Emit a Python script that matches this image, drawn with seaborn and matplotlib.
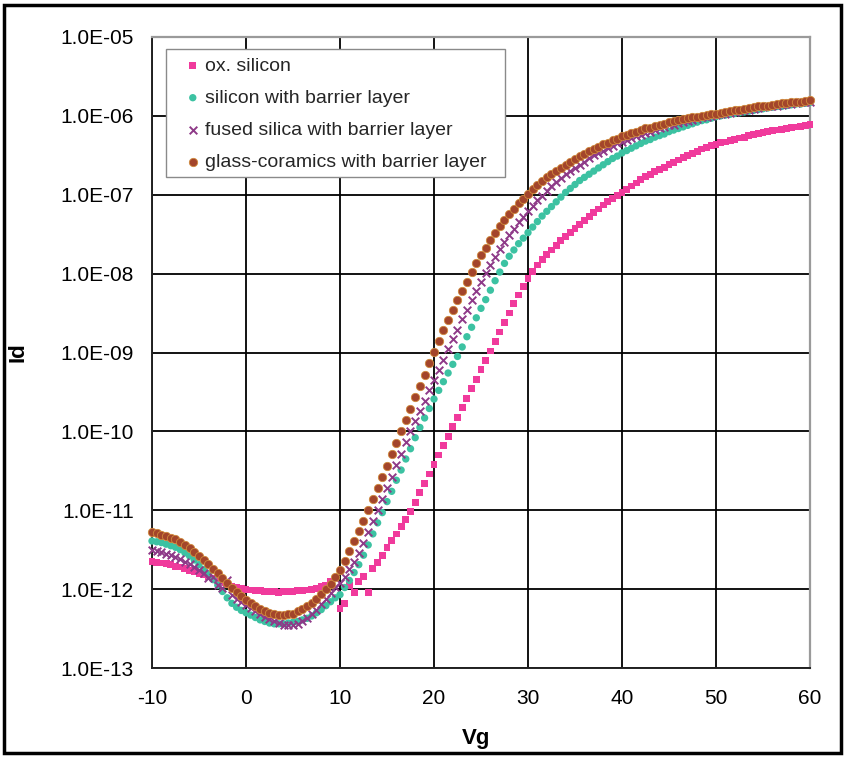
import numpy as np
import pandas as pd
import matplotlib
matplotlib.use("Agg")
import matplotlib.pyplot as plt
from matplotlib.ticker import FuncFormatter, LogLocator, NullFormatter
from matplotlib.patches import Rectangle
import seaborn as sns

# Gate voltage sweep (V), 0.5 V steps from -10 V to 60 V
VG = np.arange(-10.0, 60.5, 0.5)

# log10 of drain current Id (A), one value per sweep step
LOG_ID_OX_SILICON = [
    -11.65, -11.66, -11.67, -11.68, -11.69, -11.71, -11.72, -11.74, -11.76, -11.78,
    -11.80, -11.82, -11.84, -11.87, -11.89, -11.92, -11.94, -11.96, -11.98, -11.99,
    -12.00, -12.01, -12.02, -12.02, -12.03, -12.03, -12.03, -12.04, -12.03, -12.03,
    -12.03, -12.02, -12.02, -12.01, -12.00, -11.99, -11.97, -11.95, -11.90, -11.86,
    -12.25, -12.18, -11.95, -12.04, -11.90, -11.84, -12.04, -11.74, -11.66, -11.57,
    -11.47, -11.38, -11.30, -11.21, -11.12, -11.02, -10.90, -10.78, -10.66, -10.54,
    -10.42, -10.30, -10.18, -10.06, -9.94, -9.82, -9.70, -9.58, -9.46, -9.34,
    -9.22, -9.10, -8.98, -8.86, -8.74, -8.62, -8.50, -8.38, -8.27, -8.16,
    -8.06, -7.97, -7.89, -7.82, -7.76, -7.70, -7.64, -7.58, -7.53, -7.48,
    -7.43, -7.38, -7.33, -7.28, -7.23, -7.18, -7.13, -7.09, -7.05, -7.01,
    -6.97, -6.93, -6.89, -6.85, -6.81, -6.77, -6.74, -6.71, -6.68, -6.65,
    -6.62, -6.59, -6.56, -6.53, -6.50, -6.48, -6.45, -6.42, -6.40, -6.38,
    -6.36, -6.34, -6.33, -6.31, -6.30, -6.28, -6.27, -6.25, -6.24, -6.22,
    -6.21, -6.20, -6.19, -6.18, -6.17, -6.16, -6.15, -6.14, -6.13, -6.12,
    -6.11,
]

LOG_ID_SILICON_BARRIER = [
    -11.39, -11.40, -11.41, -11.43, -11.45, -11.47, -11.50, -11.54, -11.58, -11.63,
    -11.69, -11.75, -11.81, -11.88, -11.95, -12.03, -12.11, -12.18, -12.23, -12.27,
    -12.30, -12.33, -12.36, -12.39, -12.41, -12.43, -12.44, -12.44, -12.44, -12.43,
    -12.42, -12.41, -12.39, -12.37, -12.34, -12.30, -12.26, -12.21, -12.16, -12.11,
    -12.07, -11.98, -11.89, -11.79, -11.69, -11.57, -11.44, -11.30, -11.16, -11.03,
    -10.89, -10.76, -10.62, -10.49, -10.35, -10.22, -10.08, -9.95, -9.83, -9.71,
    -9.59, -9.48, -9.37, -9.26, -9.15, -9.05, -8.93, -8.80, -8.68, -8.56,
    -8.44, -8.33, -8.21, -8.09, -7.98, -7.87, -7.78, -7.70, -7.62, -7.55,
    -7.48, -7.41, -7.34, -7.27, -7.21, -7.15, -7.09, -7.03, -6.97, -6.92,
    -6.87, -6.82, -6.78, -6.74, -6.70, -6.66, -6.62, -6.58, -6.54, -6.51,
    -6.47, -6.44, -6.41, -6.38, -6.35, -6.32, -6.30, -6.27, -6.25, -6.23,
    -6.20, -6.18, -6.16, -6.14, -6.12, -6.10, -6.08, -6.06, -6.05, -6.03,
    -6.01, -6.00, -5.99, -5.98, -5.97, -5.96, -5.95, -5.94, -5.93, -5.92,
    -5.91, -5.90, -5.89, -5.88, -5.88, -5.87, -5.86, -5.85, -5.85, -5.84,
    -5.83,
]

LOG_ID_FUSED_SILICA = [
    -11.50, -11.52, -11.53, -11.55, -11.57, -11.59, -11.62, -11.65, -11.68, -11.72,
    -11.76, -11.80, -11.86, -11.84, -11.95, -11.98, -11.88, -12.08, -12.12, -12.16,
    -12.20, -12.24, -12.28, -12.31, -12.35, -12.38, -12.41, -12.43, -12.45, -12.46,
    -12.46, -12.44, -12.41, -12.37, -12.32, -12.26, -12.19, -12.12, -12.05, -11.97,
    -11.92, -11.84, -11.75, -11.65, -11.54, -11.41, -11.28, -11.14, -11.00, -10.86,
    -10.72, -10.58, -10.43, -10.29, -10.14, -10.00, -9.87, -9.74, -9.61, -9.48,
    -9.35, -9.22, -9.09, -8.96, -8.83, -8.71, -8.58, -8.46, -8.34, -8.22,
    -8.10, -7.99, -7.89, -7.79, -7.69, -7.60, -7.51, -7.43, -7.35, -7.28,
    -7.21, -7.14, -7.07, -7.01, -6.95, -6.89, -6.84, -6.79, -6.74, -6.70,
    -6.66, -6.62, -6.58, -6.54, -6.50, -6.47, -6.44, -6.41, -6.38, -6.35,
    -6.33, -6.30, -6.28, -6.26, -6.24, -6.22, -6.20, -6.18, -6.16, -6.14,
    -6.12, -6.11, -6.09, -6.08, -6.06, -6.05, -6.04, -6.02, -6.01, -6.00,
    -5.99, -5.98, -5.97, -5.96, -5.95, -5.94, -5.93, -5.92, -5.91, -5.90,
    -5.89, -5.88, -5.88, -5.87, -5.86, -5.85, -5.85, -5.84, -5.83, -5.83,
    -5.82,
]

LOG_ID_GLASS_CERAMICS = [
    -11.27, -11.29, -11.31, -11.33, -11.35, -11.37, -11.40, -11.44, -11.48, -11.53,
    -11.58, -11.63, -11.68, -11.74, -11.80, -11.86, -11.92, -11.98, -12.04, -12.09,
    -12.14, -12.18, -12.22, -12.25, -12.28, -12.30, -12.32, -12.33, -12.33, -12.32,
    -12.31, -12.28, -12.25, -12.21, -12.17, -12.12, -12.06, -12.00, -11.93, -11.85,
    -11.76, -11.64, -11.52, -11.39, -11.26, -11.13, -11.00, -10.86, -10.72, -10.58,
    -10.44, -10.29, -10.15, -10.00, -9.86, -9.71, -9.57, -9.42, -9.28, -9.13,
    -8.99, -8.85, -8.72, -8.59, -8.46, -8.34, -8.22, -8.10, -7.98, -7.87,
    -7.77, -7.67, -7.58, -7.49, -7.40, -7.32, -7.25, -7.18, -7.11, -7.05,
    -6.99, -6.93, -6.88, -6.83, -6.78, -6.74, -6.70, -6.66, -6.62, -6.58,
    -6.55, -6.51, -6.48, -6.45, -6.42, -6.39, -6.36, -6.34, -6.31, -6.29,
    -6.26, -6.24, -6.22, -6.20, -6.18, -6.16, -6.15, -6.13, -6.11, -6.10,
    -6.08, -6.07, -6.05, -6.04, -6.03, -6.02, -6.01, -6.00, -5.99, -5.98,
    -5.97, -5.96, -5.95, -5.94, -5.93, -5.92, -5.91, -5.90, -5.89, -5.88,
    -5.87, -5.87, -5.86, -5.85, -5.84, -5.84, -5.83, -5.82, -5.82, -5.81,
    -5.80,
]

SERIES_LABELS = [
    "ox. silicon",
    "silicon with barrier layer",
    "fused silica with barrier layer",
    "glass-coramics with barrier layer",
]
SERIES_VALUES = [
    LOG_ID_OX_SILICON,
    LOG_ID_SILICON_BARRIER,
    LOG_ID_FUSED_SILICA,
    LOG_ID_GLASS_CERAMICS,
]

X_TICKS = [-10, 0, 10, 20, 30, 40, 50, 60]
Y_EXPONENTS = [-13, -12, -11, -10, -9, -8, -7, -6, -5]

sns.set_theme(style="white")
plt.rcParams["font.family"] = ["Liberation Sans", "DejaVu Sans"]
plt.rcParams["axes.unicode_minus"] = False

W, H = 845, 757
fig = plt.figure(figsize=(W / 100, H / 100), dpi=100)
fig.patch.set_facecolor("white")
ax = fig.add_axes([152 / W, 89 / H, 658 / W, 631 / H])
ax.set_facecolor("white")

marker_styles = [
    dict(marker="s", color="#F03A9C", s=24, edgecolor="none"),
    dict(marker="o", color="#3CC2A2", s=28, edgecolor="none"),
    dict(marker="x", color="#8E3A88", s=30, linewidth=1.4),
    dict(marker="o", color="#A3452B", s=36, edgecolor="#D08A3C", linewidth=0.6),
]

for label, values, style in zip(SERIES_LABELS, SERIES_VALUES, marker_styles):
    df = pd.DataFrame({"Vg": VG, "Id": 10.0 ** np.asarray(values)})
    sns.scatterplot(data=df, x="Vg", y="Id", ax=ax, label=label,
                    clip_on=False, zorder=3, **style)

ax.set_yscale("log")
ax.set_xlim(-10, 60)
ax.set_ylim(1e-13, 1e-5)
ax.set_xticks(X_TICKS)
ax.set_yticks([10.0 ** e for e in Y_EXPONENTS])
ax.yaxis.set_major_formatter(FuncFormatter(lambda v, _: f"1.0E{int(round(np.log10(v))):03d}"))
ax.yaxis.set_minor_locator(LogLocator(base=10, subs=np.arange(2, 10) * 1.0, numticks=30))
ax.yaxis.set_minor_formatter(NullFormatter())

ax.grid(True, which="major", color="black", linewidth=1.3)
ax.set_axisbelow(True)
ax.tick_params(axis="both", which="major", direction="out", length=5, width=1.0,
               color="black", labelsize=15, labelcolor="black")
ax.tick_params(axis="y", which="major", pad=8)
ax.tick_params(axis="x", which="major", pad=10)
ax.tick_params(axis="y", which="minor", direction="out", length=2.5, width=0.8, color="#444444")

for side in ("left", "bottom"):
    ax.spines[side].set_color("#222222")
    ax.spines[side].set_linewidth(1.4)
for side in ("top", "right"):
    ax.spines[side].set_color("#9a9a9a")
    ax.spines[side].set_linewidth(1.6)

ax.set_xlabel("Vg", fontsize=16, fontweight="bold", color="black")
ax.set_ylabel("Id", fontsize=16, fontweight="bold", color="black")
ax.xaxis.set_label_coords((476 - 152) / 658, -(728 - 668) / 631)
ax.yaxis.set_label_coords(-(152 - 29) / 658, (668 - 352) / 631)

# legend box drawn as its own patch inside the axes, entries placed on top of it
legend_box = Rectangle((166 / W, 1 - 177 / H), (505 - 166) / W, (177 - 49) / H,
                       transform=fig.transFigure, facecolor="white",
                       edgecolor="#8a8a8a", linewidth=1.0, zorder=5, clip_on=False)
ax.add_patch(legend_box)
leg = ax.legend(loc="upper left", bbox_to_anchor=(185 / W, 1 - 57 / H),
                bbox_transform=fig.transFigure, borderaxespad=0, frameon=False,
                fontsize=14, handlelength=0.8, handletextpad=0.25, borderpad=0,
                labelspacing=0.75, markerscale=1.0)
leg.set_zorder(6)

# black frame around the whole chart
fig.patches.append(Rectangle((4 / W, 4 / H), (W - 8) / W, (H - 9) / H,
                             transform=fig.transFigure, fill=False,
                             edgecolor="black", linewidth=2.5, zorder=10))

fig.savefig("out.png", dpi=100, facecolor="white")
